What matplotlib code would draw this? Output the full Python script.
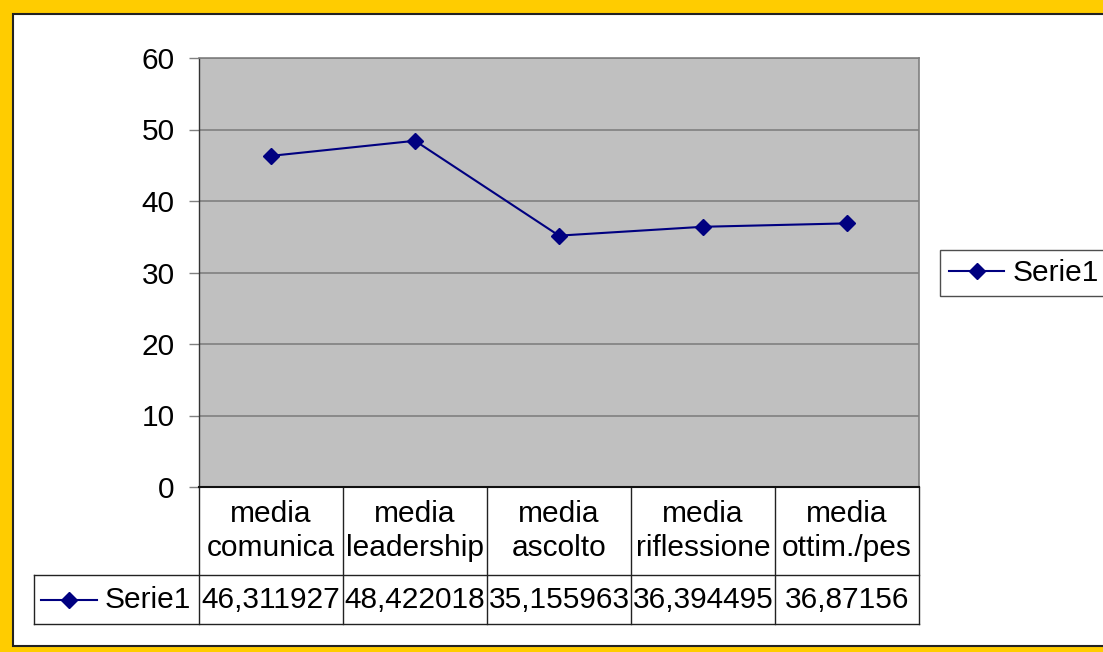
import matplotlib.pyplot as plt
from matplotlib.patches import Rectangle
from matplotlib.lines import Line2D
import matplotlib.transforms as mtransforms

plt.rcParams['font.family'] = ['Liberation Sans', 'DejaVu Sans']

categorie = ['media\ncomunica', 'media\nleadership', 'media\nascolto',
             'media\nriflessione', 'media\nottim./pes']
valori = [46.311927, 48.422018, 35.155963, 36.394495, 36.87156]
etichette = ['46,311927', '48,422018', '35,155963', '36,394495', '36,87156']
serie = 'Serie1'

W, H = 1103, 652
fig = plt.figure(figsize=(W / 100, H / 100), dpi=100)
fig.patch.set_facecolor('#FFCC00')

# cornice bianca con bordo nero
fig.patches.append(Rectangle((12.5 / W, 1 - 645.5 / H), 1.0, (645.5 - 13.5) / H,
                             transform=fig.transFigure, facecolor='white',
                             edgecolor='#222222', linewidth=1.5, zorder=-10))

def px(x0, y0, x1, y1):
    return [x0 / W, 1 - y1 / H, (x1 - x0) / W, (y1 - y0) / H]

ax = fig.add_axes(px(199, 58, 919, 487))
ax.set_facecolor('#C0C0C0')
ax.set_xlim(-0.5, 4.5)
ax.set_ylim(0, 60)
ax.set_yticks(range(0, 61, 10))
ax.set_xticks([])
ax.yaxis.grid(True, color='#808080', linewidth=1.2)
ax.set_axisbelow(True)
ax.tick_params(axis='y', length=7.5, width=1, color='#808080',
               labelsize=21.5, pad=10)
for s in ['top', 'right']:
    ax.spines[s].set_color('#808080')
    ax.spines[s].set_linewidth(1.2)
ax.spines['left'].set_color('#333333')
ax.spines['bottom'].set_color('#111111')
ax.spines['left'].set_linewidth(1)
ax.spines['bottom'].set_linewidth(1.5)

x = list(range(len(valori)))
linea, = ax.plot(x, valori, color='#000080', linewidth=1.5, marker='D',
                 markersize=8, label=serie)

# tabella dati sotto il grafico
tr = mtransforms.blended_transform_factory(ax.transData, ax.transAxes)
h_ax = 487 - 58
y_mid = -(575 - 487) / h_ax
y_bot = -(624 - 487) / h_ax
x_left = -0.5 - (199 - 34) / 144.0
lc = '#222222'
for i in range(len(categorie) + 1):
    ax.add_line(Line2D([i - 0.5, i - 0.5], [0, y_bot], transform=tr,
                       color=lc, linewidth=1, clip_on=False))
for yy in [y_mid, y_bot]:
    ax.add_line(Line2D([x_left, 4.5], [yy, yy], transform=tr,
                       color=lc, linewidth=1, clip_on=False))
ax.add_line(Line2D([x_left, x_left], [y_mid, y_bot], transform=tr,
                   color=lc, linewidth=1, clip_on=False))

for i, (c, e) in enumerate(zip(categorie, etichette)):
    ax.text(i, y_mid / 2, c, transform=tr, ha='center', va='center',
            fontsize=21.5, linespacing=1.25)
    ax.text(i, (y_mid + y_bot) / 2, e, transform=tr, ha='center',
            va='center', fontsize=21.5)

# chiave della legenda nella tabella
yk = (y_mid + y_bot) / 2
ax.add_line(Line2D([x_left + 0.05, x_left + 0.44], [yk, yk], transform=tr,
                   color='#000080', linewidth=1.5, clip_on=False))
ax.add_line(Line2D([x_left + 0.245], [yk], transform=tr, marker='D',
                   markersize=8, color='#000080', clip_on=False))
ax.text(x_left + 0.49, yk, serie, transform=tr, ha='left', va='center',
        fontsize=21.5)

leg = fig.legend(handles=[linea], loc='center left',
                 bbox_to_anchor=(940 / W, 1 - 273 / H), fontsize=21.5,
                 frameon=True, fancybox=False, edgecolor='#222222',
                 handlelength=1.85, handletextpad=0.28, borderpad=0.3,
                 borderaxespad=0)
leg.get_frame().set_linewidth(1)

fig.savefig('out.png', dpi=100, facecolor=fig.get_facecolor())
